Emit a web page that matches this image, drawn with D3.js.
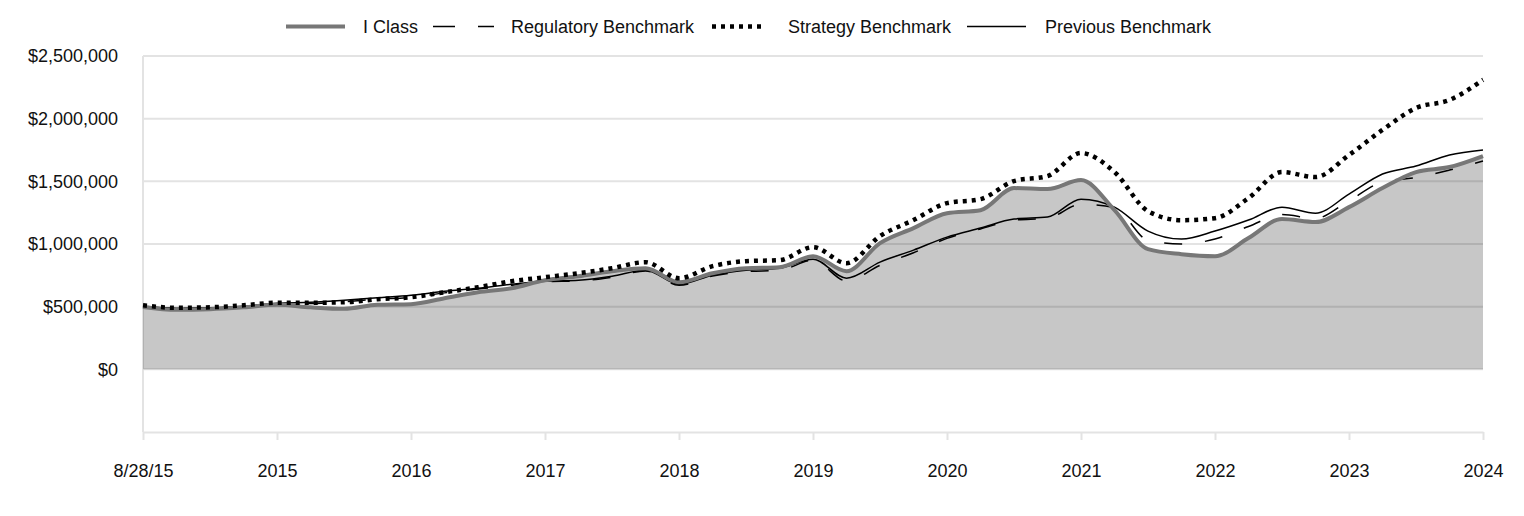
<!DOCTYPE html>
<html><head><meta charset="utf-8">
<script src="https://cdn.jsdelivr.net/npm/d3@7"></script>
<style>body{margin:0;background:#fff}svg{display:block;font-family:"Liberation Sans",Arial,sans-serif}</style>
</head><body><svg id="c" width="1524" height="516"></svg>
<script>
const tickLabels = ["8/28/15","2015","2016","2017","2018","2019","2020","2021","2022","2023","2024"];
const yTicks = [0, 500000, 1000000, 1500000, 2000000, 2500000];
// quarterly points, values in thousands of dollars
const iClass = [498,475,480,495,515,495,483,515,520,567,615,647,711,743,783,807,695,767,807,815,903,783,1007,1127,1246,1270,1446,1438,1510,1270,959,919,903,1047,1199,1175,1294,1446,1574,1614,1702];
const regulatory = [500,485,488,500,522,525,540,560,575,610,640,670,700,705,735,785,670,745,780,790,870,705,830,930,1045,1120,1190,1205,1318,1290,1030,1000,1040,1140,1235,1205,1345,1495,1530,1590,1662];
const strategy = [511,491,495,511,531,531,535,559,575,615,655,703,735,767,807,855,727,823,863,871,975,847,1063,1191,1326,1358,1502,1542,1726,1574,1262,1190,1206,1366,1574,1534,1710,1910,2085,2149,2309];
const previous = [503,487,491,503,527,535,551,571,591,623,647,679,703,711,743,791,679,751,791,807,879,727,855,951,1055,1127,1199,1215,1358,1294,1103,1039,1103,1191,1294,1246,1398,1558,1622,1710,1750];
const seriesNames = ["I Class","Regulatory Benchmark","Strategy Benchmark","Previous Benchmark"];

const svg = d3.select("#c");
const x = d3.scaleLinear().domain([0, iClass.length - 1]).range([143, 1483]);
const y = d3.scaleLinear().domain([-500000, 2500000]).range([432, 56]);
const fs = 18;

// gridlines
svg.append("g").selectAll("line").data(yTicks).join("line")
  .attr("x1", 143).attr("x2", 1483).attr("y1", d => y(d)).attr("y2", d => y(d))
  .attr("stroke", "#e3e3e3").attr("stroke-width", 2);
// left axis line
svg.append("line").attr("x1", 143).attr("x2", 143).attr("y1", y(2500000)).attr("y2", 432)
  .attr("stroke", "#e3e3e3").attr("stroke-width", 2);

// y labels
svg.append("g").selectAll("text").data(yTicks).join("text")
  .attr("x", 118).attr("y", d => y(d)).attr("dy", "0.35em").attr("text-anchor", "end")
  .attr("font-size", fs).attr("fill", "#111")
  .text(d => "$" + d3.format(",")(d));

// x axis
const xAxis = d3.axisBottom(x).tickValues(d3.range(0, 41, 4)).tickSize(8).tickSizeOuter(0)
  .tickFormat((d, i) => tickLabels[i]);
const gx = svg.append("g").attr("transform", "translate(0,432)").call(xAxis);
gx.select(".domain").attr("stroke", "#e3e3e3").attr("stroke-width", 2);
gx.selectAll(".tick line").attr("stroke", "#e3e3e3").attr("stroke-width", 2);
gx.selectAll(".tick text").attr("font-size", fs).attr("fill", "#111").attr("y", 32).attr("font-family", "Liberation Sans, Arial, sans-serif");

const curve = d3.curveMonotoneX;
// area
svg.append("path").datum(iClass)
  .attr("d", d3.area().x((d, i) => x(i)).y0(y(0)).y1(d => y(d * 1000)).curve(curve))
  .attr("fill", "#000").attr("fill-opacity", 0.22);

const line = d3.line().x((d, i) => x(i)).y(d => y(d * 1000)).curve(curve);
svg.append("path").datum(previous).attr("d", line).attr("fill", "none").attr("stroke", "#000").attr("stroke-width", 1.5);
svg.append("path").datum(regulatory).attr("d", line).attr("fill", "none").attr("stroke", "#000").attr("stroke-width", 1.5).attr("stroke-dasharray", "18,23");
svg.append("path").datum(iClass).attr("d", line).attr("fill", "none").attr("stroke", "#777").attr("stroke-width", 4);
svg.append("path").datum(strategy).attr("d", line).attr("fill", "none").attr("stroke", "#000").attr("stroke-width", 4.5).attr("stroke-dasharray", "4,5");

// legend
const legend = [
  {name: seriesNames[0], x1: 286, x2: 345, tx: 363, stroke: "#777", w: 4, dash: null},
  {name: seriesNames[1], x1: 433, x2: 494, tx: 511, stroke: "#000", w: 1.5, dash: "22,23"},
  {name: seriesNames[2], x1: 712, x2: 766, tx: 788, stroke: "#000", w: 4.5, dash: "4,5"},
  {name: seriesNames[3], x1: 967, x2: 1026, tx: 1045, stroke: "#000", w: 1.5, dash: null}
];
const lg = svg.append("g").selectAll("g").data(legend).join("g");
lg.append("line").attr("x1", d => d.x1).attr("x2", d => d.x2).attr("y1", 26.5).attr("y2", 26.5)
  .attr("stroke", d => d.stroke).attr("stroke-width", d => d.w).attr("stroke-dasharray", d => d.dash);
lg.append("text").attr("x", d => d.tx).attr("y", 26.5).attr("dy", "0.35em").attr("font-size", fs).attr("fill", "#111").text(d => d.name);
</script></body></html>
